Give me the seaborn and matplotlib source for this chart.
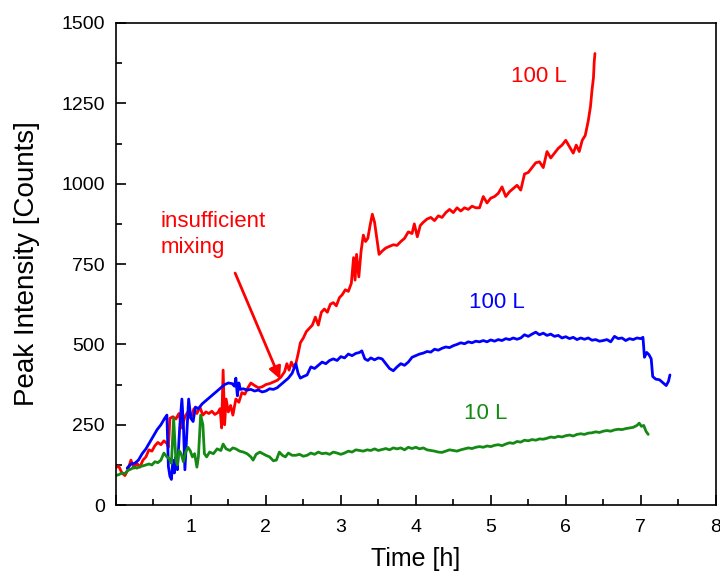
import numpy as np
import pandas as pd
import matplotlib
matplotlib.use("Agg")
import matplotlib.pyplot as plt
import seaborn as sns
from matplotlib.ticker import MultipleLocator, FixedLocator

# ---------------- data ----------------
red_t = [0.00,0.04,0.08,0.12,0.16,0.20,0.24,0.28,0.32,0.36,0.40,0.44,0.48,0.52,0.56,0.60,0.64,0.68,0.70,0.72,
         0.76,0.80,0.84,0.88,0.92,0.96,1.00,1.04,1.08,1.12,1.16,1.20,1.24,1.28,1.32,1.36,1.39,1.41,1.43,1.45,
         1.47,1.50,1.53,1.56,1.60,1.64,1.68,1.72,1.76,1.80,1.85,1.90,1.95,2.00,2.05,2.10,2.15,2.20,2.25,2.28,
         2.31,2.34,2.37,2.40,2.43,2.46,2.50,2.54,2.58,2.62,2.66,2.70,2.74,2.78,2.82,2.86,2.90,2.94,2.98,3.02,
         3.06,3.10,3.14,3.17,3.19,3.21,3.24,3.27,3.30,3.33,3.36,3.39,3.42,3.45,3.48,3.51,3.55,3.60,3.65,3.70,
         3.75,3.80,3.85,3.90,3.95,3.98,4.02,4.06,4.10,4.15,4.20,4.25,4.30,4.35,4.40,4.45,4.50,4.55,4.60,4.65,
         4.70,4.75,4.80,4.85,4.90,4.95,5.00,5.05,5.10,5.15,5.20,5.25,5.30,5.35,5.40,5.45,5.50,5.55,5.60,5.65,
         5.70,5.75,5.80,5.85,5.90,5.95,6.00,6.05,6.10,6.14,6.18,6.22,6.26,6.30,6.33,6.35,6.37,6.38,6.39]
red_y = [118,120,100,92,110,140,115,130,118,140,150,172,168,185,195,188,200,192,180,270,
         275,268,285,240,275,290,270,300,285,305,280,290,285,292,282,288,300,240,420,250,
         330,290,310,280,330,320,350,345,365,380,372,365,368,375,378,383,388,398,415,440,
         420,445,430,440,470,505,520,540,550,560,585,560,600,610,600,625,630,620,645,655,
         670,665,690,770,700,780,710,790,840,820,830,870,905,880,830,780,790,800,805,810,
         808,820,830,850,845,875,835,870,880,890,895,885,900,895,910,920,910,925,915,925,
         920,930,925,925,960,940,955,960,970,990,960,975,985,995,980,1030,1035,1050,1065,1068,
         1050,1100,1080,1095,1110,1120,1135,1115,1095,1120,1100,1135,1150,1195,1240,1290,1330,1380,1405]

blue_t = [0.15,0.20,0.25,0.30,0.35,0.40,0.45,0.50,0.55,0.60,0.65,0.68,0.70,0.72,0.74,0.76,0.78,0.80,0.82,0.85,
          0.88,0.90,0.92,0.94,0.97,1.00,1.03,1.06,1.10,1.15,1.20,1.25,1.30,1.35,1.40,1.45,1.50,1.55,1.58,1.60,
          1.62,1.64,1.66,1.70,1.75,1.80,1.85,1.90,1.95,2.00,2.05,2.10,2.15,2.20,2.25,2.30,2.35,2.40,2.43,2.46,
          2.50,2.55,2.60,2.65,2.70,2.75,2.80,2.85,2.90,2.95,3.00,3.05,3.10,3.15,3.20,3.25,3.28,3.32,3.36,3.40,
          3.45,3.50,3.55,3.60,3.65,3.70,3.75,3.80,3.85,3.90,3.95,4.00,4.05,4.10,4.15,4.20,4.25,4.30,4.35,4.40,
          4.45,4.50,4.55,4.60,4.65,4.70,4.75,4.80,4.85,4.90,4.95,5.00,5.05,5.10,5.15,5.20,5.25,5.30,5.35,5.40,
          5.45,5.50,5.55,5.60,5.65,5.70,5.75,5.80,5.85,5.90,5.95,6.00,6.05,6.10,6.15,6.20,6.25,6.30,6.35,6.40,
          6.45,6.50,6.55,6.60,6.65,6.70,6.75,6.80,6.85,6.90,6.95,7.00,7.03,7.05,7.08,7.11,7.14,7.16,7.20,7.25,
          7.30,7.34,7.37,7.39]
blue_y = [115,128,130,140,160,175,195,215,235,250,270,280,120,90,80,140,100,150,110,240,
          330,250,110,200,330,270,260,305,300,315,325,335,345,355,365,375,380,378,370,395,
          340,380,360,362,358,360,355,358,352,355,362,360,365,375,385,395,410,440,410,395,
          400,405,430,425,435,445,440,450,455,450,462,458,470,465,472,475,480,455,450,458,
          452,458,455,440,425,418,430,440,435,445,460,465,470,473,478,476,485,482,488,492,
          490,496,500,505,502,508,505,510,508,512,508,514,510,515,512,518,515,520,516,520,
          530,525,532,538,530,535,528,532,525,528,520,524,518,522,515,520,516,520,513,515,
          510,512,515,508,525,518,520,512,518,515,520,518,522,460,475,468,455,400,392,390,
          380,372,385,405]

green_t = [0.00,0.04,0.08,0.12,0.16,0.20,0.24,0.28,0.32,0.36,0.40,0.44,0.48,0.52,0.56,0.60,0.64,0.68,0.71,0.74,
           0.77,0.80,0.82,0.84,0.87,0.90,0.93,0.96,0.99,1.02,1.05,1.08,1.10,1.13,1.16,1.18,1.21,1.25,1.30,1.35,
           1.40,1.43,1.47,1.52,1.56,1.60,1.65,1.70,1.75,1.80,1.83,1.87,1.92,1.96,2.00,2.05,2.10,2.14,2.18,2.22,
           2.26,2.30,2.35,2.40,2.45,2.50,2.55,2.60,2.65,2.70,2.75,2.80,2.85,2.90,2.95,3.00,3.05,3.10,3.15,3.20,
           3.25,3.30,3.35,3.40,3.45,3.50,3.55,3.60,3.65,3.70,3.75,3.80,3.85,3.90,3.95,4.00,4.05,4.10,4.15,4.20,
           4.25,4.30,4.35,4.40,4.45,4.50,4.55,4.60,4.65,4.70,4.75,4.80,4.85,4.90,4.95,5.00,5.05,5.10,5.15,5.20,
           5.25,5.30,5.35,5.40,5.45,5.50,5.55,5.60,5.65,5.70,5.75,5.80,5.85,5.90,5.95,6.00,6.05,6.10,6.15,6.20,
           6.25,6.30,6.35,6.40,6.45,6.50,6.55,6.60,6.65,6.70,6.75,6.80,6.85,6.90,6.95,6.98,7.01,7.04,7.07,7.10]
green_y = [92,95,100,98,108,112,118,115,120,122,125,128,125,135,132,140,162,150,145,130,
           270,140,125,170,160,135,165,180,170,150,160,118,150,280,250,160,150,165,160,175,
           170,190,175,170,178,175,168,165,160,150,140,158,165,160,155,150,138,140,165,155,
           150,162,155,155,158,152,155,162,158,165,160,162,158,165,162,158,162,168,165,172,
           170,168,172,170,175,170,173,176,172,178,175,178,172,180,176,180,175,178,172,170,
           168,165,164,168,172,170,168,172,175,178,176,180,182,180,184,182,186,188,185,190,
           194,192,198,196,202,200,204,202,206,205,208,212,210,214,212,216,218,215,220,222,
           220,224,225,228,226,230,232,230,234,236,235,238,240,242,248,255,245,248,230,220]

x_ticks = [0, 1, 2, 3, 4, 5, 6, 7, 8]
x_tick_labels = ["", "1", "2", "3", "4", "5", "6", "7", "8"]
y_ticks = [0, 250, 500, 750, 1000, 1250, 1500]
y_tick_labels = ["0", "250", "500", "750", "1000", "1250", "1500"]

# ---------------- style ----------------
sns.set_style("ticks")
plt.rcParams["font.family"] = ["Liberation Sans", "DejaVu Sans"]
plt.rcParams["text.color"] = "black"
plt.rcParams["axes.labelcolor"] = "black"
plt.rcParams["xtick.color"] = "black"
plt.rcParams["ytick.color"] = "black"

fig = plt.figure(figsize=(7.2, 5.74), dpi=100)
ax = fig.add_axes([0.161, 0.120, 0.833, 0.840])

lw = 2.0
sns.lineplot(x=red_t, y=red_y, ax=ax, color="#ff0000", lw=lw, estimator=None, sort=False)
sns.lineplot(x=blue_t, y=blue_y, ax=ax, color="#0000ff", lw=lw, estimator=None, sort=False)
sns.lineplot(x=green_t, y=green_y, ax=ax, color="#148a14", lw=lw, estimator=None, sort=False)

ax.set_xlim(0, 8)
ax.set_ylim(0, 1500)
ax.xaxis.set_major_locator(FixedLocator(x_ticks))
ax.set_xticklabels(x_tick_labels)
ax.yaxis.set_major_locator(FixedLocator(y_ticks))
ax.set_yticklabels(y_tick_labels)
ax.xaxis.set_minor_locator(MultipleLocator(0.5))
ax.yaxis.set_minor_locator(MultipleLocator(125))

for s in ax.spines.values():
    s.set_linewidth(1.2)
    s.set_color("black")
    s.set_visible(True)

ax.tick_params(which="major", direction="in", length=7, width=1.2, labelsize=14,
               top=False, right=False, colors="black", labelcolor="black")
ax.tick_params(which="minor", direction="in", length=4, width=1.2, top=False, right=False,
               colors="black")
ax.tick_params(axis="x", which="major", pad=10)
ax.tick_params(axis="y", which="major", pad=8)

ax.set_xlabel("Time [h]", fontsize=18, labelpad=8, color="black")
ax.set_ylabel("Peak Intensity [Counts]", fontsize=20, color="black")
ax.yaxis.set_label_coords(-0.127, 0.5)

# annotations
ax.text(5.64, 1332, "100 L", color="#ff0000", fontsize=16, ha="center", va="center")
ax.text(5.08, 629, "100 L", color="#0000ff", fontsize=16, ha="center", va="center")
ax.text(4.93, 286, "10 L", color="#148a14", fontsize=16, ha="center", va="center")
ax.text(0.59, 915, "insufficient\nmixing", color="#ff0000", fontsize=16, ha="left", va="top",
        linespacing=1.3)
ax.annotate("", xy=(2.19, 392), xytext=(1.59, 722),
            arrowprops=dict(arrowstyle="-|>", color="#ff0000", lw=2, mutation_scale=18,
                            shrinkA=0, shrinkB=0))

fig.savefig("out.png", dpi=100)
